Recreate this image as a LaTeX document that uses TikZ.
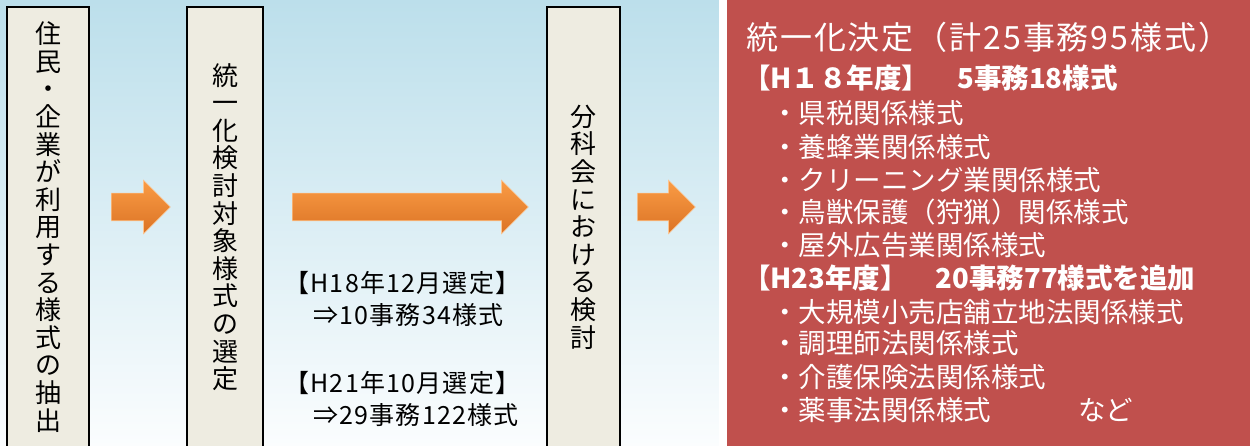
\documentclass[tikz,border=0pt]{standalone}
\usepackage{fontspec}
\setmainfont{Noto Sans CJK JP}
\usetikzlibrary{shapes.arrows}
\definecolor{boxfill}{HTML}{EEECE1}
\definecolor{redbg}{HTML}{C0504D}
\definecolor{bgtop}{HTML}{BCDFEB}
\definecolor{bgbot}{HTML}{FBFDFE}
\definecolor{ortop}{HTML}{FA9C45}
\definecolor{orbot}{HTML}{DB7325}
\begin{document}
\begin{tikzpicture}[x=1pt,y=-1pt,
  stagebox/.style={draw=black, line width=1.5pt, fill=boxfill, inner sep=0pt,
    minimum height=440pt, align=center,
    font=\fontsize{26}{27.6}\selectfont},
  orarrow/.style={single arrow, single arrow head extend=13pt, inner xsep=0pt,
    inner ysep=13.5pt, anchor=tail, top color=ortop, bottom color=orbot,
    draw=ortop!60!white, line width=0.6pt},
  midtext/.style={anchor=west, inner sep=0pt, align=left,
    font=\fontsize{25}{32}\selectfont\addfontfeature{LetterSpace=5}},
  whitetext/.style={anchor=west, inner sep=0pt, text=white},
  title/.style={whitetext, font=\fontsize{32}{34}\selectfont\addfontfeature{LetterSpace=6}},
  head/.style={whitetext, font=\fontsize{27.5}{30}\selectfont\bfseries},
  item/.style={whitetext, font=\fontsize{27.5}{30}\selectfont}]
\useasboundingbox (0,0) rectangle (1250,446);
\clip (0,0) rectangle (1250,446);
\shade[top color=bgtop, bottom color=bgbot] (0,0) rectangle (719,446);
\fill[white] (719,0) rectangle (727,446);
\fill[redbg] (727,0) rectangle (1250,446);

\node[stagebox, minimum width=82pt] (b1) at (48,227)
  {住\\民\\・\\企\\業\\が\\利\\用\\す\\る\\様\\式\\の\\抽\\出};
\node[stagebox, minimum width=76pt] (b2) at (225,227)
  {統\\一\\化\\検\\討\\対\\象\\様\\式\\の\\選\\定};
\node[stagebox, minimum width=73pt] (b3) at (583.5,227)
  {分\\科\\会\\に\\お\\け\\る\\検\\討};

\node[orarrow, minimum height=59pt] (a1) at (111,207) {};
\node[orarrow, minimum height=236pt] (a2) at (292,207) {};
\node[orarrow, minimum height=58pt] (a3) at (637,207) {};

\node[midtext] (s1) at (284,299) {【H18年12月選定】\\\hspace*{29pt}⇒10事務34様式};
\node[midtext] (s2) at (284,399) {【H21年10月選定】\\\hspace*{29pt}⇒29事務122様式};

\node[title] (t) at (746,37) {統一化決定（計25事務95様式）};
\node[head] (h18) at (743,78) {【H１８年度】\hspace{28pt}5事務18様式};
\node[item] (i1) at (771,113) {・県税関係様式};
\node[item] (i2) at (771,147) {・養蜂業関係様式};
\node[item] (i3) at (771,180) {・クリーニング業関係様式};
\node[item] (i4) at (771,212) {・鳥獣保護（狩猟）関係様式};
\node[item] (i5) at (771,245) {・屋外広告業関係様式};
\node[head] (h23) at (743,278) {【H23年度】\hspace{28pt}20事務77様式を追加};
\node[item] (i6) at (771,312) {・大規模小売店舗立地法関係様式};
\node[item] (i7) at (771,343) {・調理師法関係様式};
\node[item] (i8) at (771,377) {・介護保険法関係様式};
\node[item] (i9) at (771,410) {・薬事法関係様式};
\node[item] (etc) at (1078,410) {など};
\end{tikzpicture}
\end{document}
